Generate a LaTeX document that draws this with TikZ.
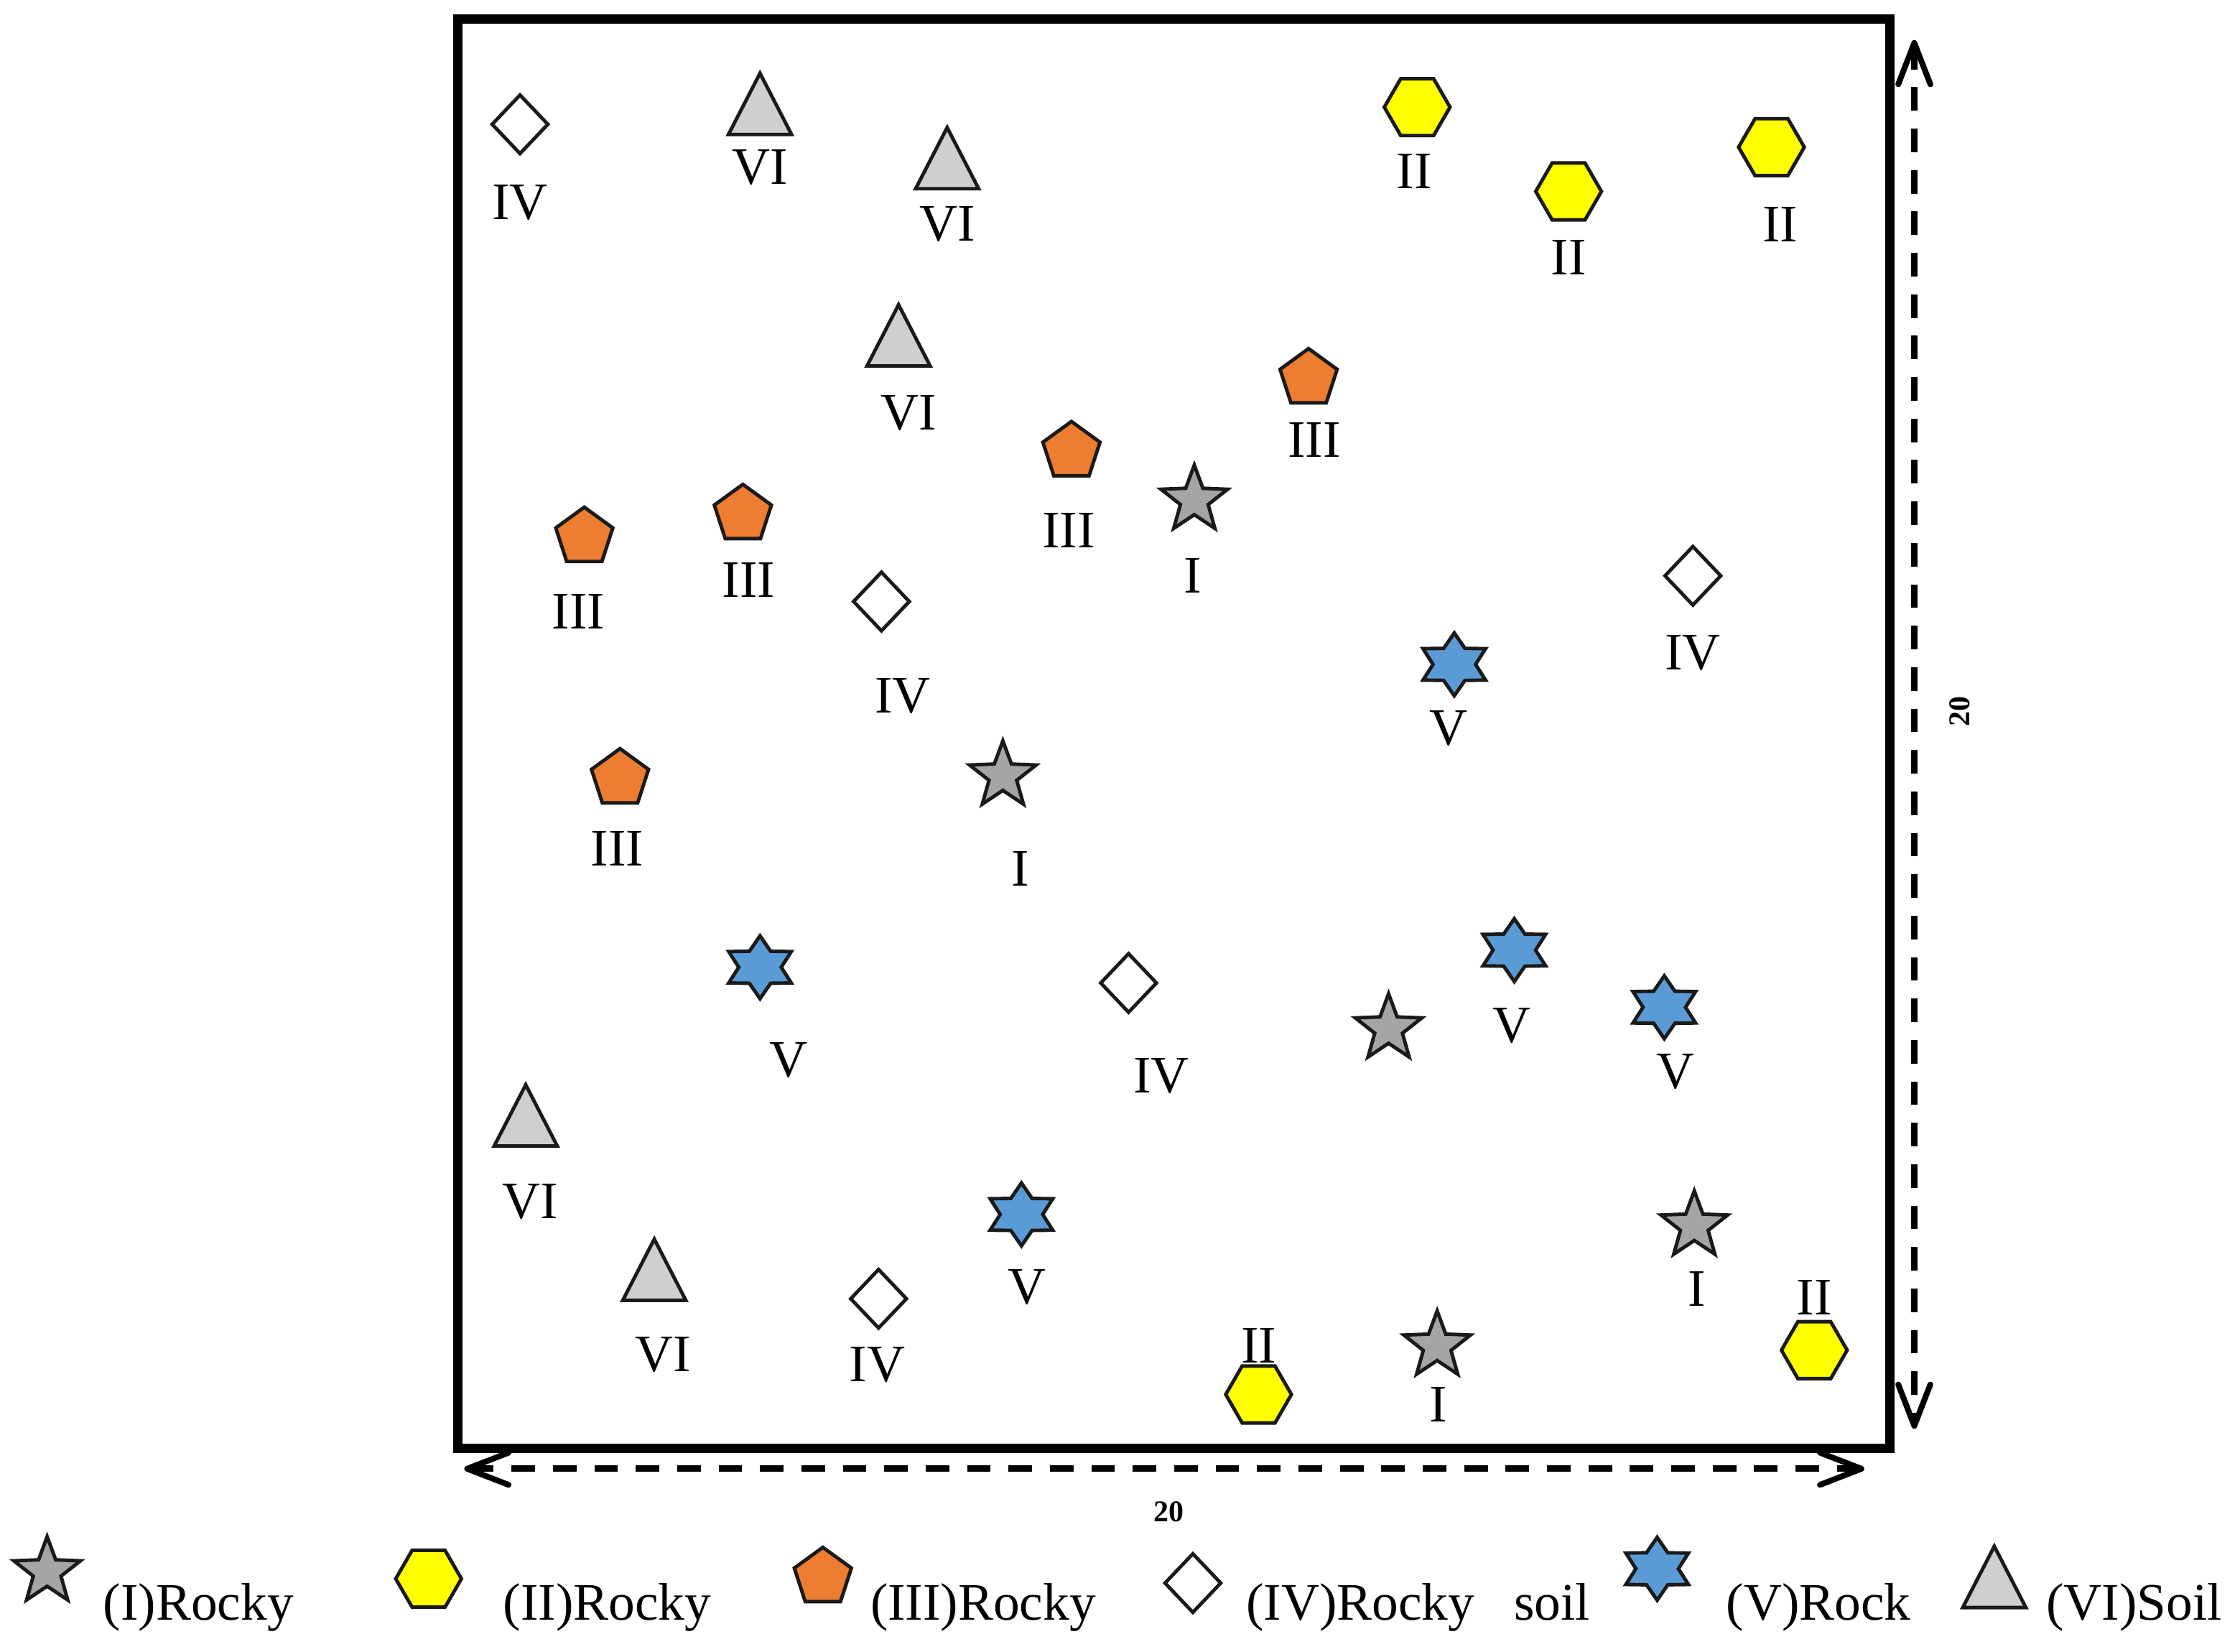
\documentclass[tikz,border=0pt]{standalone}
\usepackage{fontspec}
\setmainfont{Liberation Serif}
\definecolor{ZoneGrey}{HTML}{A5A5A5}
\definecolor{ZoneYellow}{HTML}{FFFF00}
\definecolor{ZoneOrange}{HTML}{ED7D31}
\definecolor{ZoneBlue}{HTML}{5B9BD5}
\definecolor{ZoneSoil}{HTML}{D0CECE}
\definecolor{ZoneEdge}{HTML}{1A1A1A}
\usetikzlibrary{shapes.geometric,arrows.meta,positioning}
\tikzset{
    % one symbol per zone
    symbol/.style={
        draw=ZoneEdge,
        line width=1.4pt,
        inner sep=0pt
    },
    rocky one/.style={
        symbol,
        star,
        star points=5,
        star point ratio=2.4,
        fill=ZoneGrey,
        minimum size=0.98cm
    },
    rocky two/.style={
        symbol,
        regular polygon,
        regular polygon sides=6,
        fill=ZoneYellow,
        minimum size=0.92cm
    },
    rocky three/.style={
        symbol,
        regular polygon,
        regular polygon sides=5,
        fill=ZoneOrange,
        minimum size=0.84cm
    },
    rocky soil/.style={
        symbol,
        diamond,
        aspect=1,
        fill=white,
        minimum width=0.8cm,
        minimum height=0.84cm
    },
    rock/.style={
        symbol,
        star,
        star points=6,
        star point ratio=1.7,
        fill=ZoneBlue,
        minimum size=0.88cm,
        xscale=1.15
    },
    soil/.style={
        symbol,
        regular polygon,
        regular polygon sides=3,
        fill=ZoneSoil,
        minimum size=1.02cm,
        yscale=1.12,
        yshift=-0.14cm
    },
    zone label/.style={
        font=\fontsize{21}{24}\selectfont,
        inner sep=0pt
    },
    legend text/.style={
        font=\fontsize{21}{24}\selectfont,
        anchor=west,
        inner sep=0pt
    },
    field/.style={
        rectangle,
        draw=black,
        line width=3.7pt,
        minimum width=20.05cm,
        minimum height=20.02cm,
        inner sep=0pt
    },
    dim arrow/.style={
        {Straight Barb[length=0.58cm,width=0.45cm,line width=2.3pt,round]}-{Straight Barb[length=0.58cm,width=0.45cm,line width=2.3pt,round]},
        line width=2.6pt,
        dash pattern=on 0.33cm off 0.25cm
    },
    dim label/.style={
        font=\fontsize{12}{14}\selectfont\bfseries,
        inner sep=0pt
    }
}

\begin{document}
\begin{tikzpicture}[x=0.02cm, y=-0.02cm]
        \useasboundingbox (0,0) rectangle (1568,1156);

        % Field
        \node[field] (field) at (821.75,513.5) {};

        % Zone I
        \node[rocky one] (i1) at (836,350) {};
        \node[zone label] (i1-l) at (835,403) {I};
        \node[rocky one] (i2) at (702,543) {};
        \node[zone label] (i2-l) at (714,608) {I};
        \node[rocky one] (i3) at (972,720) {};
        \node[rocky one] (i4) at (1186,858) {};
        \node[zone label] (i4-l) at (1188,902) {I};
        \node[rocky one] (i5) at (1006,942) {};
        \node[zone label] (i5-l) at (1007,983) {I};

        % Zone II
        \node[rocky two] (ii1) at (992,75) {};
        \node[zone label] (ii1-l) at (990,120) {II};
        \node[rocky two] (ii2) at (1098,134) {};
        \node[zone label] (ii2-l) at (1098,180) {II};
        \node[rocky two] (ii3) at (1240,103) {};
        \node[zone label] (ii3-l) at (1246,157) {II};
        \node[rocky two] (ii4) at (881,976) {};
        \node[zone label] (ii4-l) at (881,942) {II};
        \node[rocky two] (ii5) at (1270,945) {};
        \node[zone label] (ii5-l) at (1270,908) {II};

        % Zone III
        \node[rocky three] (iii1) at (916,265) {};
        \node[zone label] (iii1-l) at (920,308) {III};
        \node[rocky three] (iii2) at (750,316) {};
        \node[zone label] (iii2-l) at (748,371) {III};
        \node[rocky three] (iii3) at (409,376) {};
        \node[zone label] (iii3-l) at (405,428) {III};
        \node[rocky three] (iii4) at (520,360) {};
        \node[zone label] (iii4-l) at (524,406) {III};
        \node[rocky three] (iii5) at (434,545) {};
        \node[zone label] (iii5-l) at (432,594) {III};

        % Zone IV
        \node[rocky soil] (iv1) at (364,87) {};
        \node[zone label] (iv1-l) at (364,142) {IV};
        \node[rocky soil] (iv2) at (617,421) {};
        \node[zone label] (iv2-l) at (632,487) {IV};
        \node[rocky soil] (iv3) at (1185,403) {};
        \node[zone label] (iv3-l) at (1185,457) {IV};
        \node[rocky soil] (iv4) at (790,688) {};
        \node[zone label] (iv4-l) at (813,753) {IV};
        \node[rocky soil] (iv5) at (615,909) {};
        \node[zone label] (iv5-l) at (614,955) {IV};

        % Zone V
        \node[rock] (v1) at (1018,465) {};
        \node[zone label] (v1-l) at (1014,510) {V};
        \node[rock] (v2) at (532,677) {};
        \node[zone label] (v2-l) at (552,742) {V};
        \node[rock] (v3) at (1060,665) {};
        \node[zone label] (v3-l) at (1058,718) {V};
        \node[rock] (v4) at (1165,705) {};
        \node[zone label] (v4-l) at (1173,750) {V};
        \node[rock] (v5) at (715,850) {};
        \node[zone label] (v5-l) at (719,901) {V};

        % Zone VI
        \node[soil] (vi1) at (532,72) {};
        \node[zone label] (vi1-l) at (532,117) {VI};
        \node[soil] (vi2) at (663,110) {};
        \node[zone label] (vi2-l) at (663,157) {VI};
        \node[soil] (vi3) at (629,234) {};
        \node[zone label] (vi3-l) at (636,289) {VI};
        \node[soil] (vi4) at (368,780) {};
        \node[zone label] (vi4-l) at (371,841) {VI};
        \node[soil] (vi5) at (458,888) {};
        \node[zone label] (vi5-l) at (464,948) {VI};

        % Dimensions
        \coordinate (dimH-a) at (325,1028);
        \coordinate (dimH-b) at (1305,1028);
        \coordinate (dimV-a) at (1340,28);
        \coordinate (dimV-b) at (1340,1000);
        \draw[dim arrow] (dimH-a) -- (dimH-b);
        \draw[dim arrow] (dimV-a) -- (dimV-b);
        \node[dim label] (dimH-l) at (818,1058) {20};
        \node[dim label, rotate=90] (dimV-l) at (1372,498) {20};

        % Legend
        \node[rocky one] (key1) at (33,1100) {};
        \node[legend text] (key1-t) at (72,1125) {(I)Rocky};
        \node[rocky two] (key2) at (300,1105) {};
        \node[legend text] (key2-t) at (352,1125) {(II)Rocky};
        \node[rocky three] (key3) at (576,1104) {};
        \node[legend text] (key3-t) at (609,1125) {(III)Rocky};
        \node[rocky soil] (key4) at (835,1108) {};
        \node[legend text] (key4-t) at (872,1125) {(IV)Rocky~~~soil};
        \node[rock] (key5) at (1160,1098) {};
        \node[legend text] (key5-t) at (1208,1125) {(V)Rock};
        \node[soil] (key6) at (1396,1103) {};
        \node[legend text] (key6-t) at (1432,1125) {(VI)Soil};
    \end{tikzpicture}
\end{document}
